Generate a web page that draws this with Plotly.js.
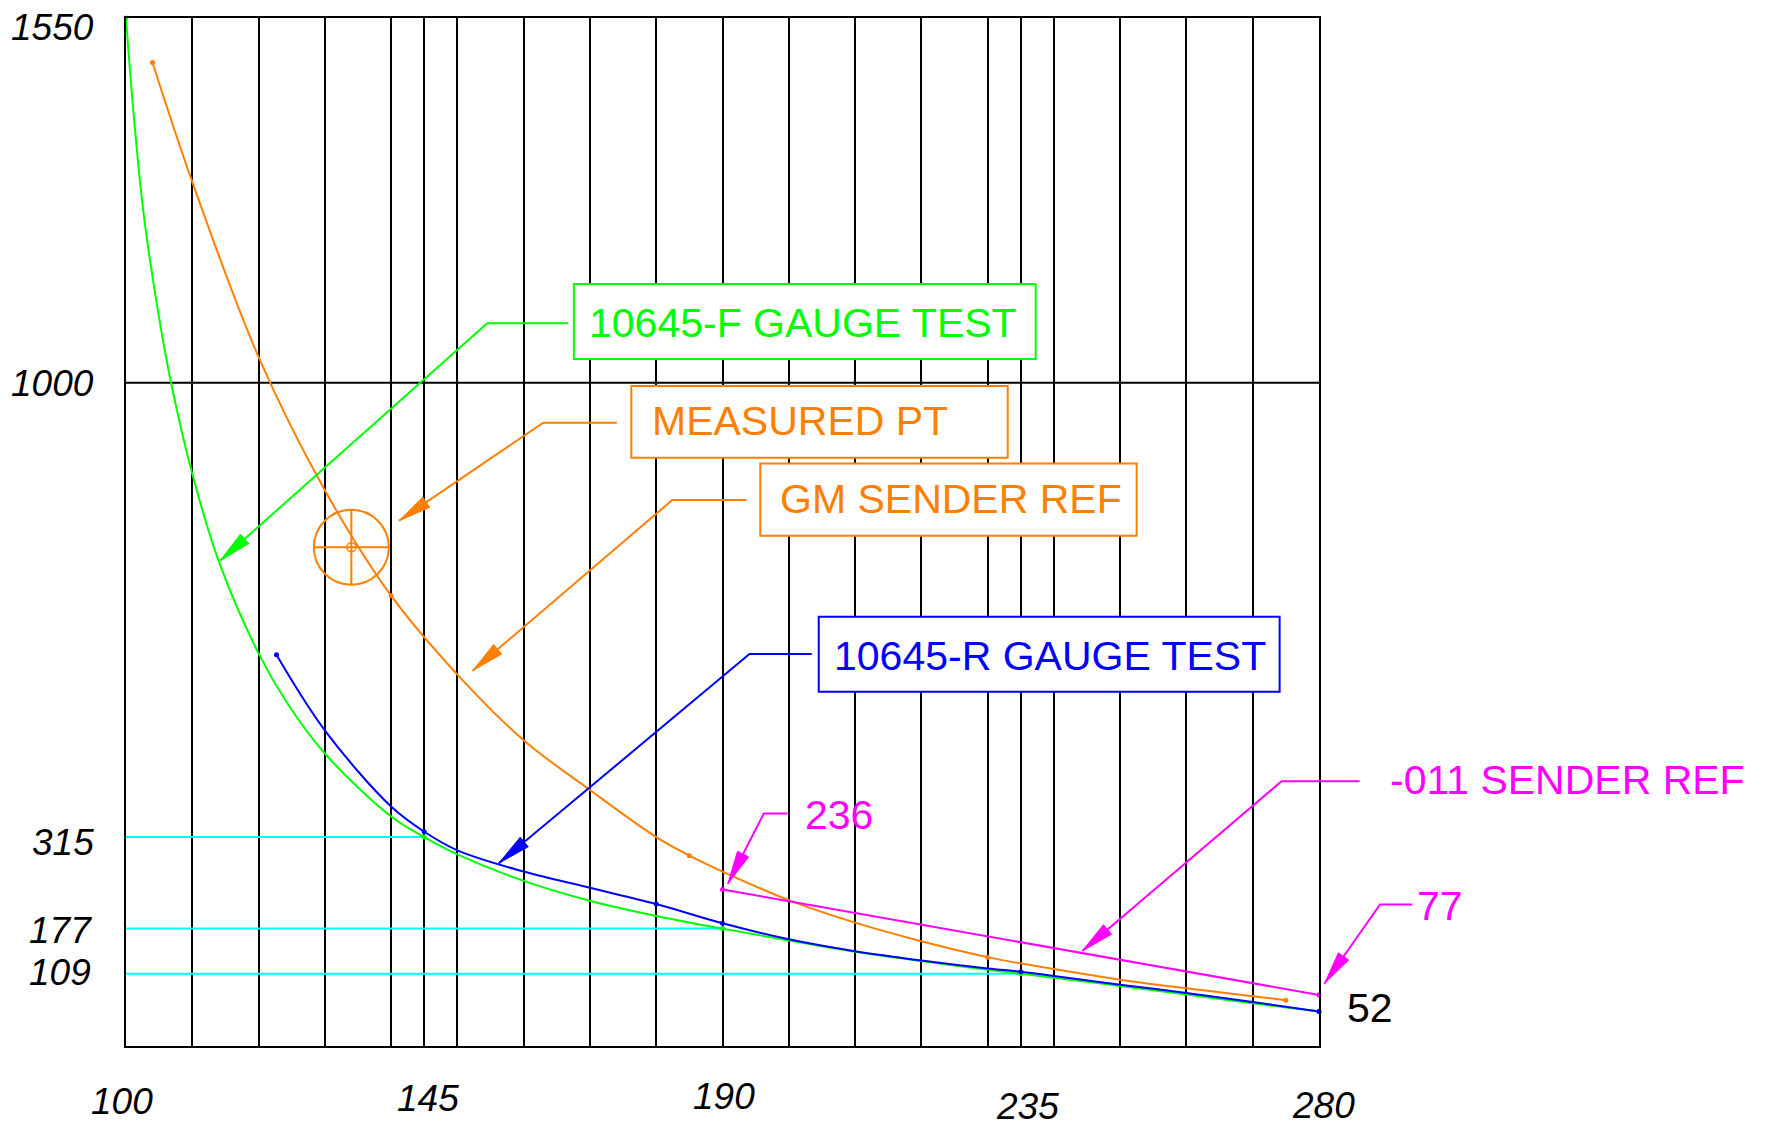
<!DOCTYPE html>
<html>
<head>
<meta charset="utf-8">
<script src="https://cdn.plot.ly/plotly-3.0.1.min.js"></script>
<style>
  html, body { margin: 0; padding: 0; background: #ffffff; }
  #chart { width: 1765px; height: 1127px; }
</style>
</head>
<body>
<div id="chart"></div>
<script>
// ---- 10645-F gauge test (traced curve and its plotted fit points) ----
const fGaugeCurveX = [100, 101.1, 102.6, 104.8, 106.8, 110, 114.1, 120, 124.2, 130, 140, 145, 150, 160, 170, 180, 190, 200, 210, 220, 230, 235, 240, 250, 260, 270, 280];
const fGaugeCurveY = [1550, 1411, 1260, 1110, 1000, 863, 728, 592, 519, 441, 346, 315, 289, 249, 219, 196, 177, 159, 142, 128, 115, 109, 103, 90.5, 77.5, 64.5, 52];
const fGaugePointX = [100, 145, 190, 235, 280];
const fGaugePointY = [1550, 315, 177, 109, 52];

// ---- 10645-R gauge test ----
const rGaugeCurveX = [122.7, 130, 140, 145, 150, 160, 170, 180, 190, 200, 210, 220, 230, 235, 240, 250, 260, 270, 280];
const rGaugeCurveY = [590, 476, 361, 323, 295, 263, 238.5, 214, 185, 161, 143, 129, 117, 112, 105.5, 92.5, 80, 66.5, 52];
const rGaugePointX = [122.7, 145, 180, 190, 235, 280];
const rGaugePointY = [590, 323, 214, 185, 112, 52];

// ---- GM sender reference ----
const gmRefCurveX = [104, 110, 120, 130, 140, 150, 160, 170, 180, 185, 190, 200, 210, 220, 230, 240, 250, 260, 270, 275];
const gmRefCurveY = [1483, 1303, 1039, 838, 679, 560, 461, 386, 315, 287, 263, 220, 186, 158, 134, 116, 100, 87, 75, 69];
const gmRefPointX = [104, 140, 185, 230, 275];
const gmRefPointY = [1483, 679, 287, 134, 69];

// ---- -011 sender reference ----
const sender011X = [190, 280];
const sender011Y = [236, 77];

// ---- measured point ----
const measuredX = [134];
const measuredY = [752];

// ---- reference levels read across to the y axis ----
const refX = [145, 190, 235];
const refY = [315, 177, 109];

// ---- axis labelling ----
const xLabelVals = [100, 145, 190, 235, 280];
const yLabelVals = [1550, 1000, 315, 177, 109];

// ---------------------------------------------------------------
const X_MIN = 100, X_MAX = 280, Y_MIN = 0, Y_MAX = 1550;
const W = 1765, H = 1127;
const M = { l: 126, r: 446, t: 18, b: 81, pad: 0 };
const plotW = W - M.l - M.r, plotH = H - M.t - M.b;

const GREEN = '#00ff00', ORANGE = '#ff7f00', BLUE = '#0000ff',
      MAGENTA = '#ff00ff', CYAN = '#00ffff', BLACK = '#000000';
const FONT = 'Liberation Sans, Arial, Helvetica, sans-serif';

const toPX = x => (x - X_MIN) / (X_MAX - X_MIN);   // data x -> paper
const toPY = y => (y - Y_MIN) / (Y_MAX - Y_MIN);   // data y -> paper

// grid: every 10 units plus the 145 / 235 marks
const gridVals = [];
for (let v = X_MIN; v <= X_MAX; v += 10) gridVals.push(v);
gridVals.push(145, 235);
gridVals.sort((a, b) => a - b);

// ---------------------------------------------------------------
const traces = [];

// cyan read-across lines
refX.forEach((rx, i) => {
  traces.push({
    x: [X_MIN, rx], y: [refY[i], refY[i]],
    mode: 'lines', line: { color: CYAN, width: 2 },
    hoverinfo: 'skip', showlegend: false
  });
});

function curve(x, y, color, name) {
  return {
    x: x, y: y, name: name, mode: 'lines',
    line: { color: color, width: 2, shape: 'spline', smoothing: 1 },
    hoverinfo: 'skip', showlegend: false
  };
}
function dots(x, y, color, name) {
  return {
    x: x, y: y, name: name, mode: 'markers',
    marker: { color: color, size: 5 },
    hoverinfo: 'skip', showlegend: false, cliponaxis: false
  };
}

traces.push(curve(fGaugeCurveX, fGaugeCurveY, GREEN, '10645-F GAUGE TEST'));
traces.push(dots(fGaugePointX, fGaugePointY, GREEN, '10645-F GAUGE TEST'));
traces.push(curve(gmRefCurveX, gmRefCurveY, ORANGE, 'GM SENDER REF'));
traces.push(dots(gmRefPointX, gmRefPointY, ORANGE, 'GM SENDER REF'));
traces.push(curve(rGaugeCurveX, rGaugeCurveY, BLUE, '10645-R GAUGE TEST'));
traces.push(dots(rGaugePointX, rGaugePointY, BLUE, '10645-R GAUGE TEST'));
traces.push({
  x: sender011X, y: sender011Y, name: '-011 SENDER REF', mode: 'lines+markers',
  line: { color: MAGENTA, width: 2 }, marker: { color: MAGENTA, size: 5 },
  hoverinfo: 'skip', showlegend: false, cliponaxis: false
});

// measured point target symbol
traces.push({
  x: measuredX, y: measuredY, name: 'MEASURED PT', mode: 'markers',
  marker: { symbol: 'circle-cross-open', size: 75, color: ORANGE, line: { color: ORANGE, width: 2 } },
  hoverinfo: 'skip', showlegend: false
});
traces.push({
  x: measuredX, y: measuredY, mode: 'markers',
  marker: { symbol: 'circle-open', size: 9, color: ORANGE, line: { color: ORANGE, width: 1.5 } },
  hoverinfo: 'skip', showlegend: false
});

// ---------------------------------------------------------------
// callout leaders (end at the label, elbow, arrow tip) in data units
const callouts = [
  { color: GREEN,   tip: [114.18, 731.6], elbow: [154.5, 1089.6],  end: [166.67, 1089.6] },
  { color: ORANGE,  tip: [141.18, 791.9], elbow: [162.94, 939.7],  end: [174.06, 939.7] },
  { color: ORANGE,  tip: [152.29, 565.7], elbow: [182.41, 823.1],  end: [193.62, 823.1] },
  { color: BLUE,    tip: [156.26, 275.7], elbow: [194.07, 590.9],  end: [203.47, 590.9] },
  { color: MAGENTA, tip: [244.3, 143.4],  elbow: [274.36, 399.3],  end: [286.12, 399.3] },
  { color: MAGENTA, tip: [190.84, 245.1], elbow: [196.23, 350.6],  end: [199.85, 350.6] },
  { color: MAGENTA, tip: [280.84, 94.3],  elbow: [289.21, 213.4],  end: [294.07, 213.4] }
];

const labelBoxes = [
  { color: GREEN,  x0: 167.57, x1: 237.25, y0: 1035.8, y1: 1148.9 },
  { color: ORANGE, x0: 176.24, x1: 233.03, y0: 886.9,  y1: 995.0 },
  { color: ORANGE, x0: 195.70, x1: 252.49, y0: 769.2,  y1: 878.4 },
  { color: BLUE,   x0: 204.52, x1: 274.06, y0: 534.3,  y1: 647.4 }
];

const labels = [
  { text: '10645-F GAUGE TEST', color: GREEN,   x: 202.19, y: 1090.0 },
  { text: 'MEASURED PT',        color: ORANGE,  x: 201.67, y: 941.9 },
  { text: 'GM SENDER REF',      color: ORANGE,  x: 224.46, y: 824.6 },
  { text: '10645-R GAUGE TEST', color: BLUE,    x: 239.37, y: 588.1 },
  { text: '-011 SENDER REF',    color: MAGENTA, x: 317.5,  y: 400.4 },
  { text: String(sender011Y[0]), color: MAGENTA, x: 207.65, y: 348.4 },
  { text: String(sender011Y[1]), color: MAGENTA, x: 298.19, y: 211.6 },
  { text: String(rGaugePointY[rGaugePointY.length - 1]), color: BLACK, x: 287.75, y: 57.8 }
];

// hand-lettered axis numbers: small per-label nudges (px) as drafted
const xLabelShift = [[-4, -55], [4, -52], [1, -50], [7, -60], [4, -59]];
const yLabelShift = [[-31, -9], [-31, -1], [-31, -5], [-33, -2], [-34, 1]];

function paperPt(p) { return toPX(p[0]).toFixed(5) + ',' + toPY(p[1]).toFixed(5); }

function arrowHead(tip, from, len, width) {
  const tx = toPX(tip[0]) * plotW, ty = toPY(tip[1]) * plotH;
  const fx = toPX(from[0]) * plotW, fy = toPY(from[1]) * plotH;
  let dx = fx - tx, dy = fy - ty;
  const d = Math.hypot(dx, dy);
  dx /= d; dy /= d;
  const bx = tx + dx * len, by = ty + dy * len;
  const nx = -dy * width / 2, ny = dx * width / 2;
  const pts = [[tx, ty], [bx + nx, by + ny], [bx - nx, by - ny]];
  return 'M' + pts.map(p => (p[0] / plotW).toFixed(5) + ',' + (p[1] / plotH).toFixed(5)).join('L') + 'Z';
}

const shapes = [];

// the single horizontal grid line
shapes.push({
  type: 'line', xref: 'paper', yref: 'y', x0: 0, x1: 1, y0: 1000, y1: 1000,
  line: { color: BLACK, width: 2 }, layer: 'below'
});

callouts.forEach(c => {
  shapes.push({
    type: 'path', xref: 'paper', yref: 'paper',
    path: 'M' + paperPt(c.end) + 'L' + paperPt(c.elbow) + 'L' + paperPt(c.tip),
    line: { color: c.color, width: 2 }, layer: 'above'
  });
  shapes.push({
    type: 'path', xref: 'paper', yref: 'paper',
    path: arrowHead(c.tip, c.elbow, 33, 12.5),
    fillcolor: c.color, line: { color: c.color, width: 1 }, layer: 'above'
  });
});

labelBoxes.forEach(b => {
  shapes.push({
    type: 'rect', xref: 'paper', yref: 'paper',
    x0: toPX(b.x0), x1: toPX(b.x1), y0: toPY(b.y0), y1: toPY(b.y1),
    fillcolor: '#ffffff', line: { color: b.color, width: 2 }, layer: 'above'
  });
});

const annotations = labels.map(l => ({
  xref: 'paper', yref: 'paper', x: toPX(l.x), y: toPY(l.y),
  xanchor: 'center', yanchor: 'middle', showarrow: false,
  text: l.text, borderpad: 0,
  font: { family: FONT, size: 41, color: l.color }
}));

const tickFont = { family: FONT, size: 37, color: BLACK, style: 'italic' };

xLabelVals.forEach((v, i) => {
  annotations.push({
    xref: 'x', yref: 'paper', x: v, y: 0,
    xshift: xLabelShift[i][0], yshift: xLabelShift[i][1],
    xanchor: 'center', yanchor: 'middle', showarrow: false,
    text: String(v), borderpad: 0, font: tickFont
  });
});
yLabelVals.forEach((v, i) => {
  annotations.push({
    xref: 'paper', yref: 'y', x: 0, y: v,
    xshift: yLabelShift[i][0], yshift: yLabelShift[i][1],
    xanchor: 'right', yanchor: 'middle', showarrow: false,
    text: String(v), borderpad: 0, font: tickFont
  });
});

const layout = {
  width: W, height: H,
  margin: M,
  paper_bgcolor: '#ffffff', plot_bgcolor: '#ffffff',
  showlegend: false,
  xaxis: {
    range: [X_MIN, X_MAX], fixedrange: true,
    tickmode: 'array', tickvals: gridVals, showticklabels: false,
    showgrid: true, gridcolor: BLACK, gridwidth: 2,
    showline: true, linecolor: BLACK, linewidth: 2, mirror: true,
    zeroline: false, ticks: ''
  },
  yaxis: {
    range: [Y_MIN, Y_MAX], fixedrange: true,
    showgrid: false, showticklabels: false,
    showline: true, linecolor: BLACK, linewidth: 2, mirror: true,
    zeroline: false, ticks: ''
  },
  shapes: shapes,
  annotations: annotations
};

Plotly.newPlot('chart', traces, layout, { staticPlot: true, displayModeBar: false });
</script>
</body>
</html>
